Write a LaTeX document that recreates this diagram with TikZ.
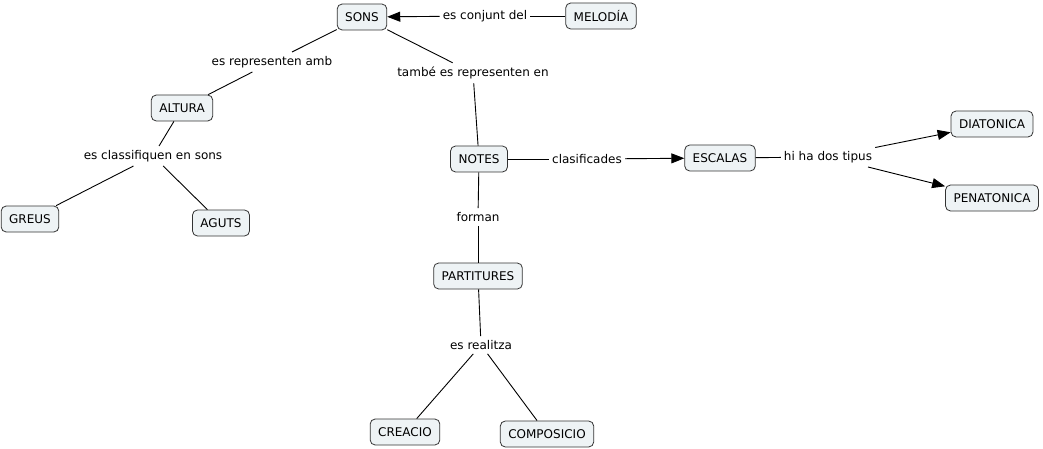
\documentclass[tikz,border=0pt]{standalone}
\usepackage{fontspec}
\setmainfont{DejaVu Sans}
\usetikzlibrary{arrows.meta}
\definecolor{boxfill}{HTML}{EEF3F5}
\definecolor{boxline}{HTML}{333333}
\tikzset{
  concept/.style={draw=boxline, fill=boxfill, rounded corners=5pt, line width=0.8pt,
    minimum height=26pt, inner xsep=8pt, inner ysep=2pt, font=\fontsize{12}{14}\selectfont},
  lbl/.style={inner xsep=3pt, inner ysep=4pt, font=\fontsize{12}{14}\selectfont},
  link/.style={draw=black, line width=0.9pt},
  arr/.style={link, -{Triangle[length=13pt,width=10pt]}}
}
\begin{document}
\begin{tikzpicture}[x=1pt,y=-1pt]
\useasboundingbox (0,0) rectangle (1043,449);
\node[concept] (sons) at (362,17) {SONS};
\node[concept] (melodia) at (601,16) {MELODÍA};
\node[lbl] (l1) at (485,16) {es conjunt del};
\node[concept] (altura) at (182,108) {ALTURA};
\node[lbl] (l2) at (272,62) {es representen amb};
\node[lbl] (l3) at (473,73) {també es representen en};
\node[concept] (notes) at (479,159) {NOTES};
\node[lbl] (l4) at (587,159) {clasificades};
\node[concept] (escalas) at (720,158) {ESCALAS};
\node[lbl] (l5) at (828,157) {hi ha dos tipus};
\node[concept] (diat) at (992,124) {DIATONICA};
\node[concept] (pena) at (992,198) {PENATONICA};
\node[lbl] (l6) at (153,156) {es classifiquen en sons};
\node[concept] (greus) at (30,219) {GREUS};
\node[concept] (aguts) at (221,223) {AGUTS};
\node[lbl] (l7) at (478,217) {forman};
\node[concept] (part) at (478,276) {PARTITURES};
\node[lbl] (l8) at (481,345) {es realitza};
\node[concept] (creacio) at (405,432) {CREACIO};
\node[concept] (compo) at (547,434) {COMPOSICIO};

\draw[link] (melodia) -- (l1);
\draw[arr] (l1) -- (sons);
\draw[link] (sons) -- (l2);
\draw[link] (l2) -- (altura);
\draw[link] (sons) -- (l3);
\draw[link] (l3) -- (notes);
\draw[link] (notes) -- (l4);
\draw[arr] (l4) -- (escalas);
\draw[link] (escalas) -- (l5);
\draw[arr] (l5) -- (diat);
\draw[arr] (l5) -- (pena);
\draw[link] (altura) -- (l6);
\draw[link] (l6) -- (greus);
\draw[link] (l6) -- (aguts);
\draw[link] (notes) -- (l7);
\draw[link] (l7) -- (part);
\draw[link] (part) -- (l8);
\draw[link] (l8) -- (creacio);
\draw[link] (l8) -- (compo);
\end{tikzpicture}
\end{document}
